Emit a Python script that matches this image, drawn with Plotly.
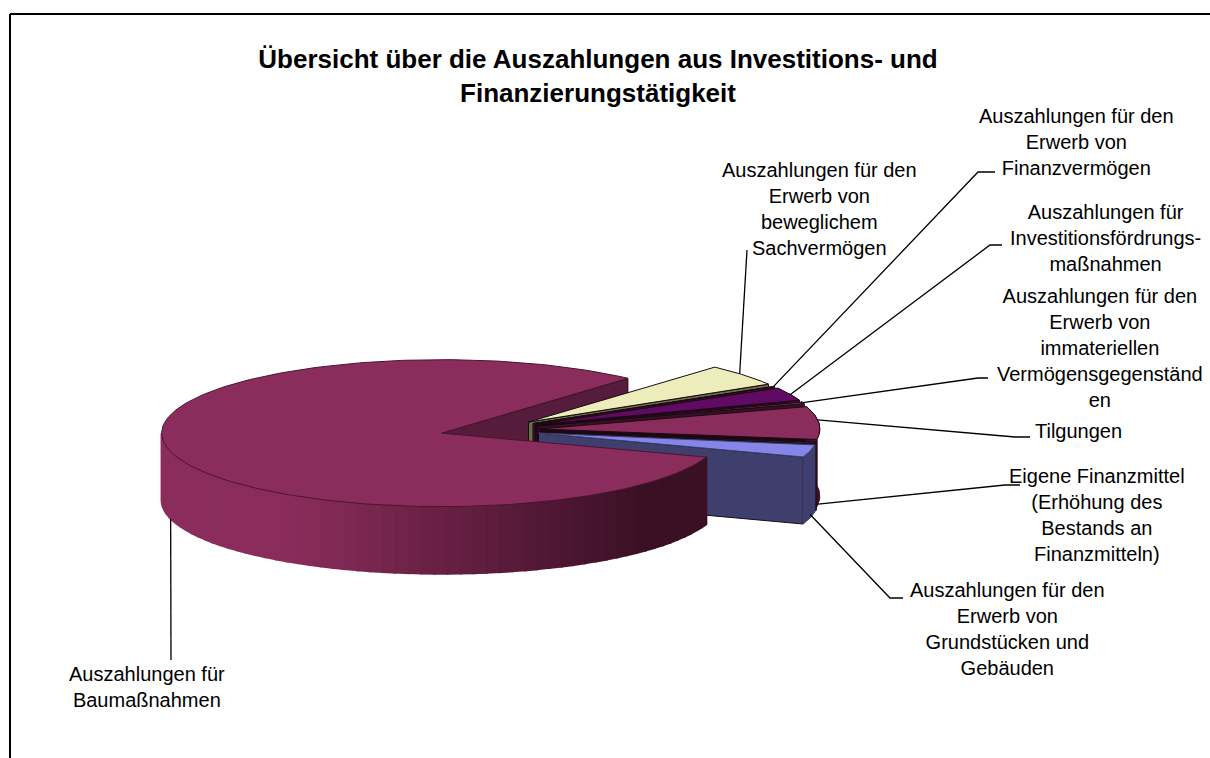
import numpy as np
import plotly.graph_objects as go

# ---- data (estimated shares in percent, clockwise from the largest slice) ----
CATEGORIES = [
    "Auszahlungen für Baumaßnahmen",
    "Auszahlungen für den Erwerb von beweglichem Sachvermögen",
    "Auszahlungen für den Erwerb von Finanzvermögen",
    "Auszahlungen für Investitionsfördrungsmaßnahmen",
    "Auszahlungen für den Erwerb von immateriellen Vermögensgegenständen",
    "Tilgungen",
    "Eigene Finanzmittel (Erhöhung des Bestands an Finanzmitteln)",
    "Auszahlungen für den Erwerb von Grundstücken und Gebäuden",
]
SHARES = [81.3, 4.8, 0.2, 3.0, 0.5, 7.2, 0.3, 2.7]
LABELS = [
    "Auszahlungen für<br>Baumaßnahmen",
    "Auszahlungen für den<br>Erwerb von<br>beweglichem<br>Sachvermögen",
    "Auszahlungen für den<br>Erwerb von<br>Finanzvermögen",
    "Auszahlungen für<br>Investitionsfördrungs-<br>maßnahmen",
    "Auszahlungen für den<br>Erwerb von<br>immateriellen<br>Vermögensgegenständ<br>en",
    "Tilgungen",
    "Eigene Finanzmittel<br>(Erhöhung des<br>Bestands an<br>Finanzmitteln)",
    "Auszahlungen für den<br>Erwerb von<br>Grundstücken und<br>Gebäuden",
]
TITLE = "Übersicht über die Auszahlungen aus Investitions- und<br>Finanzierungstätigkeit"

# ---- styles ----
TOP = ["#8b2d5c", "#ecedbb", "#8b2d5c", "#5f0a63", "#8b2d5c", "#8b2d5c", "#3f3f6e", "#8686ea"]
WALL = ["#551c3b", "#6b6b4e", "#3a1025", "#2a052c", "#3a1025", "#1c0812", "#1c1c38", "#3f3f6e"]
RIM = ["#8b2d5c", "#8c8c6a", "#3a1025", "#3a0a3c", "#3a1025", "#3a1025", "#2a1025", "#3f3f6e"]
FONT = "Liberation Sans"
LABEL_SIZE = 20

# Geometry of the tilted pie on the pixel-like axes
CX, CY, EXPLODE, KY = 490, 430, 50, 0.25
RX, RY, DEPTH = 280, 73.5, 67
START = 48.3  # angle where the largest slice ends and the small slices begin

LABEL_POS = [(147, 687), (819, 209), (1076, 142), (1105, 238), (1100, 348), (1078, 431), (1097, 515), (1007, 629)]
# where a leader meets the pie (fraction through slice or angle, depth fraction), then elbows
LEADERS = [
    dict(angle=-165.4, dy=1.0, pts=[(171, 660)]),
    dict(frac=0.42, dy=0, pts=[(747, 250)]),
    dict(frac=0.5, dy=0, pts=[(978, 172), (995, 172)]),
    dict(frac=0.55, dy=0, pts=[(990, 245), (1002, 245)]),
    dict(frac=0.5, dy=0, pts=[(978, 378), (988, 378)]),
    dict(frac=0.41, dy=0, pts=[(1015, 437), (1030, 437)]),
    dict(angle=-9.5, dy=0.9, pts=[(1005, 485), (1020, 485)]),
    dict(angle=-14, dy=0.95, pts=[(890, 598), (903, 598)]),
]

fig = go.Figure()


def arc(c, a0, a1, n=80, dy=0.0):
    a = np.radians(np.linspace(a0, a1, n))
    return c[0] + RX * np.cos(a), c[1] - RY * np.sin(a) + dy


def poly(x, y, fill, line=None, width=1.0):
    fig.add_trace(go.Scatter(
        x=list(x) + [x[0]], y=list(y) + [y[0]], mode="lines", fill="toself",
        fillcolor=fill, line=dict(color=line or fill, width=width),
        hoverinfo="skip", showlegend=False,
    ))


# slice angles from values: small slices run clockwise from START, the largest follows them
total = sum(SHARES)
sweeps = [s / total * 360 for s in SHARES]
starts = [0.0] * len(SHARES)
ends = [0.0] * len(SHARES)
a = START
for i in range(1, len(SHARES)):
    starts[i] = a
    ends[i] = a - sweeps[i]
    a = ends[i]
starts[0] = a
ends[0] = a - sweeps[0]
centers = []
for s, e in zip(starts, ends):
    mid = np.radians((s + e) / 2)
    centers.append((CX + EXPLODE * np.cos(mid), CY - EXPLODE * KY * np.sin(mid)))


def wall(i, ang):
    c = centers[i]
    x, y = arc(c, ang, ang, 1)
    poly([c[0], x[0], x[0], c[0]], [c[1], y[0], y[0] + DEPTH, c[1] + DEPTH], WALL[i], "#1a0a12", 1)


def top(i, line):
    c = centers[i]
    x, y = arc(c, starts[i], ends[i], 240 if i == 0 else 30)
    poly([c[0]] + list(x), [c[1]] + list(y), TOP[i], line, 1)


def shade(x):
    t = np.clip((x - 290) / (650 - 290), 0, 1)
    c0, c1 = np.array([0x8b, 0x2d, 0x5c]), np.array([0x3a, 0x10, 0x25])
    r = (c0 + (c1 - c0) * t).astype(int)
    return "rgb(%d,%d,%d)" % tuple(r)


# 1. far cut face of the largest slice
wall(0, ends[0])

# 2. small slices, far to near
for i in range(1, len(SHARES)):
    wall(i, ends[i])
    hi = min(starts[i], 25)
    if ends[i] < hi:
        x, y = arc(centers[i], hi, ends[i], 16)
        xb, yb = x[::-1], y[::-1] + DEPTH
        poly(list(x) + list(xb), list(y) + list(yb), RIM[i], RIM[i], 1)
    top(i, "#1a0a12" if i != 7 else "#3f3f6e")

# 3. rim of the largest slice in shaded bands
edges = np.linspace(-180, starts[0], 61)
for k in range(60):
    x, y = arc(centers[0], edges[k], edges[k + 1], 6)
    xb, yb = x[::-1], y[::-1] + DEPTH
    poly(list(x) + list(xb), list(y) + list(yb), shade(x.mean()), shade(x.mean()), 2)
# 4. top of the largest slice
top(0, "#4a1530")

# leaders
for i, ld in enumerate(LEADERS):
    ang = ld["angle"] if "angle" in ld else starts[i] - ld["frac"] * sweeps[i]
    sx, sy = arc(centers[i], ang, ang, 1, ld["dy"] * DEPTH)
    xs = [sx[0]] + [p[0] for p in ld["pts"]]
    ys = [sy[0]] + [p[1] for p in ld["pts"]]
    fig.add_trace(go.Scatter(x=xs, y=ys, mode="lines", line=dict(color="black", width=1.3),
                             hoverinfo="skip", showlegend=False))

# labels
for (lx, ly), text in zip(LABEL_POS, LABELS):
    fig.add_annotation(x=lx, y=ly, text=text, showarrow=False, xanchor="center", yanchor="middle",
                       align="center", font=dict(family=FONT, size=LABEL_SIZE, color="black"))

fig.update_layout(
    width=1210, height=758, margin=dict(l=0, r=0, t=0, b=0),
    paper_bgcolor="white", plot_bgcolor="white", showlegend=False,
    title=dict(text=TITLE, x=598 / 1210, xanchor="center", y=1 - 68 / 758, yanchor="top",
               font=dict(family=FONT, size=26, color="black", weight="bold")),
    xaxis=dict(range=[0, 1210], visible=False, fixedrange=True),
    yaxis=dict(range=[758, 0], visible=False, fixedrange=True),
    shapes=[
        dict(type="line", xref="x", yref="y", x0=10, x1=1210, y0=14, y1=14, line=dict(color="black", width=2)),
        dict(type="line", xref="x", yref="y", x0=10, x1=10, y0=14, y1=758, line=dict(color="black", width=2)),
    ],
)
fig.write_html("out.html", config={"displayModeBar": False},
               post_script="document.body.style.margin='0';document.body.style.overflow='hidden';")
